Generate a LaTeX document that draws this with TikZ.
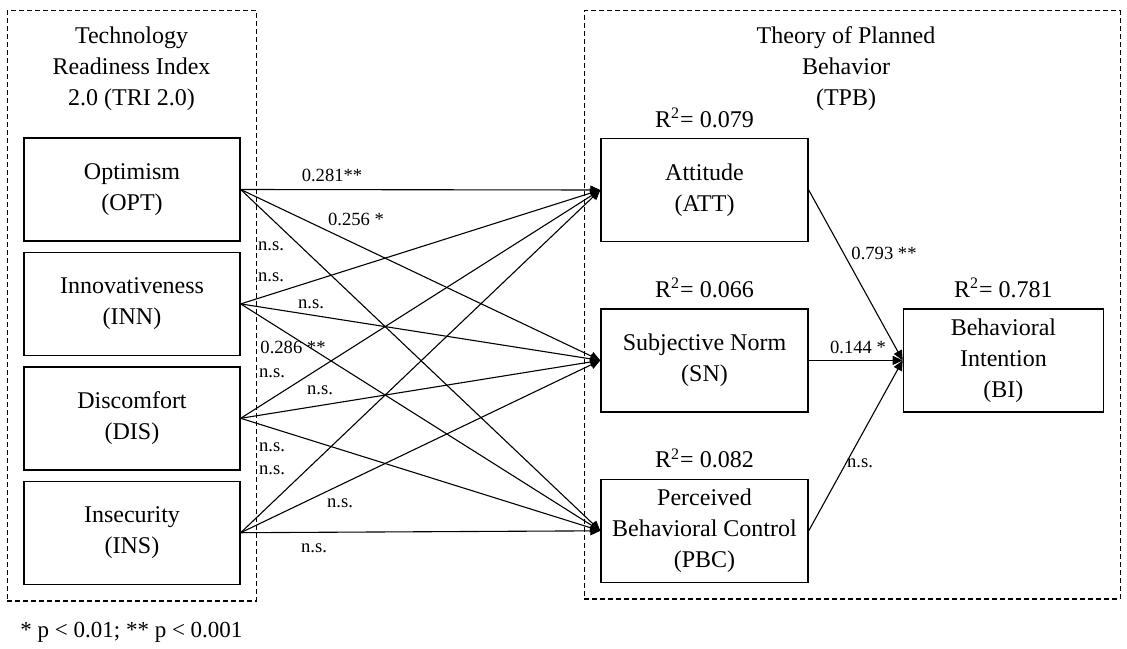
\documentclass[tikz,border=0pt]{standalone}
\usepackage{fontspec}
\setmainfont{Liberation Serif}
\usetikzlibrary{arrows.meta,positioning,fit}

\begin{document}
\begin{tikzpicture}[x=0.5pt, y=-0.5pt,
  box/.style={rectangle, draw, line width=0.7pt,
              minimum width=108pt, minimum height=51.5pt,
              align=center, font=\fontsize{12}{15.5}\selectfont},
  tpbbox/.style={box, minimum width=103.5pt},
  arr/.style={-{Triangle[length=5pt,width=4.5pt]}, line width=0.55pt},
  coef/.style={inner sep=0pt, font=\fontsize{9.3}{11}\selectfont},
  rsq/.style={inner sep=0pt, font=\fontsize{12}{14}\selectfont},
  grptitle/.style={inner sep=0pt, align=center, font=\fontsize{12}{15.5}\selectfont},
  grpframe/.style={draw, dash pattern=on 2.5pt off 1.5pt, line width=0.6pt, inner sep=8pt},
  node distance=5pt
]
  \useasboundingbox (0,0) rectangle (1127,648);

  % TRI 2.0 dimensions
  \node[grptitle] (trititle) at (131.5,69) {Technology\\Readiness Index\\2.0 (TRI 2.0)};
  \node[box] (opt) at (132,189.5) {Optimism\\(OPT)};
  \node[box, below=of opt] (inn) {Innovativeness\\(INN)};
  \node[box, below=of inn] (dis) {Discomfort\\(DIS)};
  \node[box, below=of dis] (ins) {Insecurity\\(INS)};
  \node[grpframe, fit=(trititle)(opt)(ins)] (trifr) {};

  % TPB constructs
  \node[grptitle] (tpbtitle) at (846,69) {Theory of Planned\\Behavior\\(TPB)};
  \node[tpbbox] (att) at (704.5,190) {Attitude\\(ATT)};
  \node[tpbbox, below=33pt of att] (sn) {Subjective Norm\\(SN)};
  \node[tpbbox, below=33pt of sn] (pbc) {Perceived\\Behavioral Control\\(PBC)};
  \node[tpbbox, minimum width=100pt, right=47pt of sn] (bi) {Behavioral\\Intention\\(BI)};
  \node[grpframe, fit=(tpbtitle)(att)(pbc)(bi)] (tpbfr) {};

  \node[rsq, above=5pt of att] (r2att) {R\textsuperscript{2}= 0.079};
  \node[rsq, above=5pt of sn] (r2sn) {R\textsuperscript{2}= 0.066};
  \node[rsq, above=5pt of pbc] (r2pbc) {R\textsuperscript{2}= 0.082};
  \node[rsq, above=5pt of bi] (r2bi) {R\textsuperscript{2}= 0.781};

  % paths
  \foreach \src in {opt,inn,dis,ins}
    \foreach \dst in {att,sn,pbc}
      \draw[arr] (\src.east) -- (\dst.west);
  \draw[arr] (att.east) -- (bi.west);
  \draw[arr] (sn) -- (bi);
  \draw[arr] (pbc.east) -- (bi.west);

  % path coefficients
  \node[coef] (c1) at (332,175) {0.281**};
  \node[coef] (c2) at (356,219) {0.256 *};
  \node[coef] (c3) at (271,246) {n.s.};
  \node[coef] (c4) at (271,277) {n.s.};
  \node[coef] (c5) at (311,304) {n.s.};
  \node[coef] (c6) at (293,347) {0.286 **};
  \node[coef] (c7) at (272,373) {n.s.};
  \node[coef] (c8) at (320,390) {n.s.};
  \node[coef] (c9) at (272,447) {n.s.};
  \node[coef] (c10) at (272,470) {n.s.};
  \node[coef] (c11) at (340,503) {n.s.};
  \node[coef] (c12) at (314,548) {n.s.};
  \node[coef] (c13) at (884,253) {0.793 **};
  \node[coef] (c14) at (858,347) {0.144 *};
  \node[coef] (c15) at (860,463) {n.s.};

  \node[anchor=west, inner sep=0pt, font=\fontsize{11.5}{14}\selectfont] (note) at (20,632)
    {* p < 0.01; ** p < 0.001};
\end{tikzpicture}
\end{document}
